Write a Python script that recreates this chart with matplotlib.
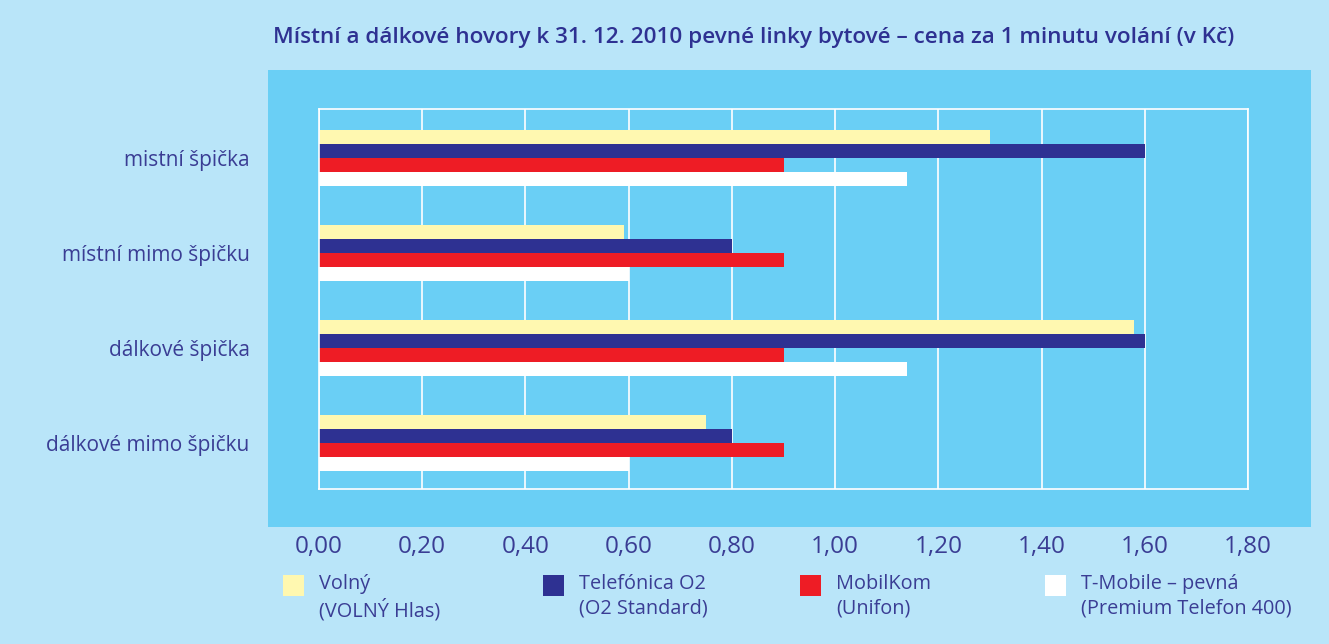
import matplotlib
matplotlib.use('Agg')
import matplotlib.pyplot as plt
import numpy as np
from matplotlib.patches import Rectangle

categories = ['mistní špička', 'místní mimo špičku', 'dálkové špička', 'dálkové mimo špičku']
series_names = ['Volný\n(VOLNÝ Hlas)', 'Telefónica O2\n(O2 Standard)',
                'MobilKom\n(Unifon)', 'T-Mobile – pevná\n(Premium Telefon 400)']
volny = [1.30, 0.59, 1.58, 0.75]
o2 = [1.60, 0.80, 1.60, 0.80]
mobilkom = [0.90, 0.90, 0.90, 0.90]
tmobile = [1.14, 0.60, 1.14, 0.60]
xticks = [0.0, 0.2, 0.4, 0.6, 0.8, 1.0, 1.2, 1.4, 1.6, 1.8]
xtick_labels = ['0,00', '0,20', '0,40', '0,60', '0,80', '1,00', '1,20', '1,40', '1,60', '1,80']
title = 'Místní a dálkové hovory k 31. 12. 2010 pevné linky bytové – cena za 1 minutu volání (v Kč)'

colors = ['#fff8b0', '#2e3192', '#ee1c25', '#ffffff']
bg = '#b9e5f9'
band = '#6acff5'
txt = '#3a3d94'

plt.rcParams['font.family'] = ['Open Sans', 'DejaVu Sans']

W, H = 1329, 644
fig = plt.figure(figsize=(W / 100, H / 100), dpi=100)
fig.patch.set_facecolor(bg)

def rect(x0, y0, x1, y1):
    return [x0 / W, 1 - y1 / H, (x1 - x0) / W, (y1 - y0) / H]

# band
axb = fig.add_axes(rect(268, 70, 1311, 527))
axb.set_facecolor(band)
axb.set_xticks([]); axb.set_yticks([])
for s in axb.spines.values():
    s.set_visible(False)

ax = fig.add_axes(rect(319, 109, 1248, 489))
ax.set_facecolor(band)
series = [volny, o2, mobilkom, tmobile]
y = np.arange(len(categories))
h = 0.147
for i, (vals, c) in enumerate(zip(series, colors)):
    ax.barh(y + (i - 1.5) * h, vals, height=h, color=c, zorder=3, linewidth=0)

ax.set_xlim(0, 1.8)
ax.set_ylim(3.48, -0.52)
ax.set_xticks(xticks)
ax.set_xticklabels(xtick_labels)
ax.set_yticks(y)
ax.set_yticklabels(categories)
ax.grid(axis='x', color='white', linewidth=1.2, zorder=1)
for s in ax.spines.values():
    s.set_color('white')
    s.set_linewidth(1.2)
ax.spines['left'].set_zorder(4)
ax.tick_params(axis='x', length=0, pad=33, labelsize=17.5, labelcolor=txt)
ax.tick_params(axis='y', length=0, pad=50, labelsize=15, labelcolor=txt)

fig.text(754 / W, 1 - 38 / H, title, ha='center', va='center', fontsize=16.2,
         fontweight='semibold', color='#2e3192')

# legend
leg_x = [283, 543, 800, 1045]
for lx, name, c in zip(leg_x, series_names, colors):
    fig.patches.append(Rectangle((lx / W, 1 - 596 / H), 21 / W, 21 / H,
                                 transform=fig.transFigure, facecolor=c,
                                 edgecolor='none'))
    fig.text((lx + 36) / W, 1 - 574 / H, name, ha='left', va='top', fontsize=14.3,
             color=txt, linespacing=1.3)

fig.savefig('out.png', dpi=100, facecolor=bg)
